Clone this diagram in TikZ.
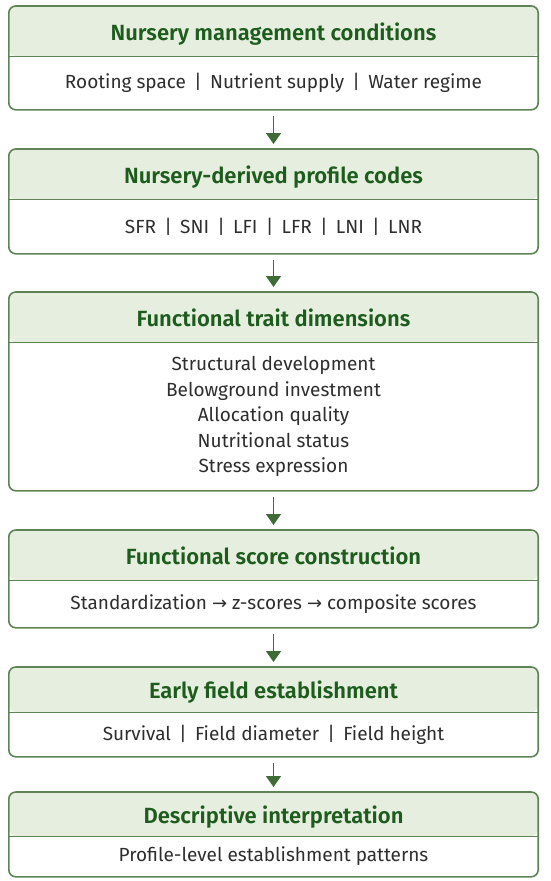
\documentclass[tikz,border=0pt]{standalone}
\usepackage{fontspec}
\setmainfont{Fira Sans}[BoldFont={Fira Sans SemiBold}]
\newfontfamily\arrowfont{DejaVu Sans}
\usepackage{tikz}
\usetikzlibrary{positioning,arrows.meta}

\definecolor{hdrfill}{HTML}{E6EFDF}
\definecolor{frameclr}{HTML}{5E8455}
\definecolor{titleclr}{HTML}{1E5C1E}
\definecolor{arrowclr}{HTML}{3F6B37}
\definecolor{textclr}{HTML}{2E2E2E}
\newcommand{\toarrow}{{\arrowfont\fontsize{18}{20}\selectfont →}}

\begin{document}
\begin{tikzpicture}[x=1pt,y=1pt]
\tikzstyle{hdr}=[fill=hdrfill,rounded corners=7pt,minimum width=529pt,inner sep=0pt,
  text height=20pt,text depth=2pt,
  text=titleclr,font=\fontsize{22}{26}\selectfont\bfseries,anchor=north];
\tikzstyle{bdy}=[fill=white,minimum width=529pt,inner sep=0pt,align=center,
  text=textclr,font=\fontsize{19}{25.5}\selectfont];
\tikzstyle{frame}=[draw=frameclr,line width=1.6pt];
\tikzstyle{arr}=[draw=arrowclr,line width=1.6pt,-{Triangle[width=15pt,length=11pt]},
  shorten <=6pt,shorten >=5pt];
\useasboundingbox (0,0) rectangle (550,-881);

% stage 1
\node[hdr,minimum height=50pt] (h1) at (273.5,-6) {Nursery management conditions};
\node[bdy,minimum height=53pt,below=0pt of h1] (b1) {Rooting space \,|\, Nutrient supply \,|\, Water regime};
\draw[frame,rounded corners=7pt] (h1.north west) rectangle (b1.south east);
\draw[frame] (h1.south west) -- (h1.south east);

% stage 2
\node[hdr,minimum height=50pt] (h2) at (273.5,-149) {Nursery-derived profile codes};
\node[bdy,minimum height=54pt,below=0pt of h2] (b2) {SFR \,|\, SNI \,|\, LFI \,|\, LFR \,|\, LNI \,|\, LNR};
\draw[frame,rounded corners=7pt] (h2.north west) rectangle (b2.south east);
\draw[frame] (h2.south west) -- (h2.south east);

% stage 3
\node[hdr,minimum height=50pt] (h3) at (273.5,-292) {Functional trait dimensions};
\node[bdy,minimum height=148pt,below=0pt of h3] (b3) {Structural development\\Belowground investment\\Allocation quality\\Nutritional status\\Stress expression};
\draw[frame,rounded corners=7pt] (h3.north west) rectangle (b3.south east);
\draw[frame] (h3.south west) -- (h3.south east);

% stage 4
\node[hdr,minimum height=50pt] (h4) at (273.5,-530) {Functional score construction};
\node[bdy,minimum height=47pt,below=0pt of h4] (b4) {Standardization \toarrow{} z-scores \toarrow{} composite scores};
\draw[frame,rounded corners=7pt] (h4.north west) rectangle (b4.south east);
\draw[frame] (h4.south west) -- (h4.south east);

% stage 5
\node[hdr,minimum height=45pt] (h5) at (273.5,-667) {Early field establishment};
\node[bdy,minimum height=44pt,below=0pt of h5] (b5) {Survival \,|\, Field diameter \,|\, Field height};
\draw[frame,rounded corners=7pt] (h5.north west) rectangle (b5.south east);
\draw[frame] (h5.south west) -- (h5.south east);

% stage 6
\node[hdr,minimum height=44pt] (h6) at (273.5,-792) {Descriptive interpretation};
\node[bdy,minimum height=40pt,below=0pt of h6] (b6) {Profile-level establishment patterns};
\draw[frame,rounded corners=7pt] (h6.north west) rectangle (b6.south east);
\draw[frame] (h6.south west) -- (h6.south east);

\draw[arr] (b1) -- (h2);
\draw[arr] (b2) -- (h3);
\draw[arr] (b3) -- (h4);
\draw[arr] (b4) -- (h5);
\draw[arr] (b5) -- (h6);
\end{tikzpicture}
\end{document}
